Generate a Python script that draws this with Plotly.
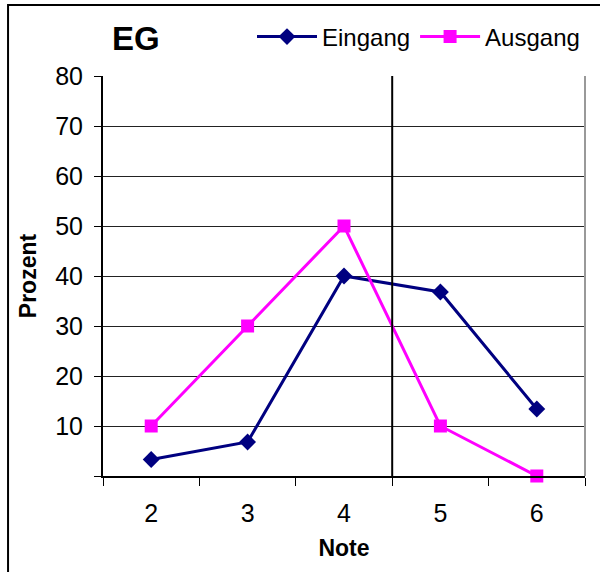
import plotly.graph_objects as go

# Notenverteilung EG, Eingangs- und Ausgangstest (Prozent)
noten = ["2", "3", "4", "5", "6"]
eingang = [3.3, 6.8, 40.0, 36.8, 13.4]
ausgang = [10, 30, 50, 10, 0]
y_ticks = [0, 10, 20, 30, 40, 50, 60, 70, 80]
y_labels = ["", "10", "20", "30", "40", "50", "60", "70", "80"]

FONT = "Liberation Sans, Arial, sans-serif"

fig = go.Figure()
fig.add_trace(go.Scatter(
    x=noten, y=eingang, name="Eingang", mode="lines+markers",
    line=dict(color="#000080", width=3),
    marker=dict(symbol="diamond", size=13, color="#000080"),
    cliponaxis=False,
))
fig.add_trace(go.Scatter(
    x=noten, y=ausgang, name="Ausgang", mode="lines+markers",
    line=dict(color="#FF00FF", width=3),
    marker=dict(symbol="square", size=13, color="#FF00FF"),
    cliponaxis=False,
))

# senkrechte Trennlinie zwischen Note 4 und 5
fig.add_shape(type="line", xref="x", yref="paper", x0=2.5, x1=2.5, y0=0, y1=1,
              line=dict(color="black", width=2))
# rechter Rand der Zeichenfläche
fig.add_shape(type="line", xref="paper", yref="paper", x0=1, x1=1, y0=0, y1=1,
              line=dict(color="#999999", width=2))
# äußerer Diagrammrahmen
fig.add_shape(type="rect", xref="paper", yref="paper", x0=-0.197, x1=1.2, y0=-0.4, y1=1.1775,
              line=dict(color="black", width=2), layer="below")

fig.add_annotation(text="<b>EG</b>", xref="paper", yref="paper", x=0.015, y=1.095,
                   xanchor="left", yanchor="middle", showarrow=False,
                   font=dict(family=FONT, size=33, color="black"))

fig.update_layout(
    width=600, height=572,
    margin=dict(l=103, r=15, t=76, b=96, autoexpand=False),
    paper_bgcolor="white", plot_bgcolor="white",
    font=dict(family=FONT, size=24, color="black"),
    showlegend=True,
    legend=dict(orientation="h", x=1.0, xanchor="right", y=1.0975, yanchor="middle",
                font=dict(family=FONT, size=24), bgcolor="rgba(0,0,0,0)",
                itemwidth=60, tracegroupgap=0),
    xaxis=dict(
        type="category", range=[-0.5, 4.5], tickson="boundaries",
        ticks="outside", ticklen=8, tickcolor="black", tickwidth=1,
        showline=True, linecolor="black", linewidth=2,
        showgrid=False, zeroline=False, ticklabelstandoff=14,
        title=dict(text="<b>Note</b>", font=dict(family=FONT, size=23), standoff=14),
        tickfont=dict(family=FONT, size=25),
    ),
    yaxis=dict(
        range=[0, 80], tickvals=y_ticks, ticktext=y_labels,
        ticks="outside", ticklen=7, tickcolor="black", tickwidth=1,
        showline=True, linecolor="black", linewidth=2,
        showgrid=True, gridcolor="#222222", gridwidth=1, zeroline=False,
        ticklabelstandoff=6,
        title=dict(text="<b>Prozent</b>", font=dict(family=FONT, size=23), standoff=12),
        tickfont=dict(family=FONT, size=25),
    ),
)

fig.write_html("out.html")
